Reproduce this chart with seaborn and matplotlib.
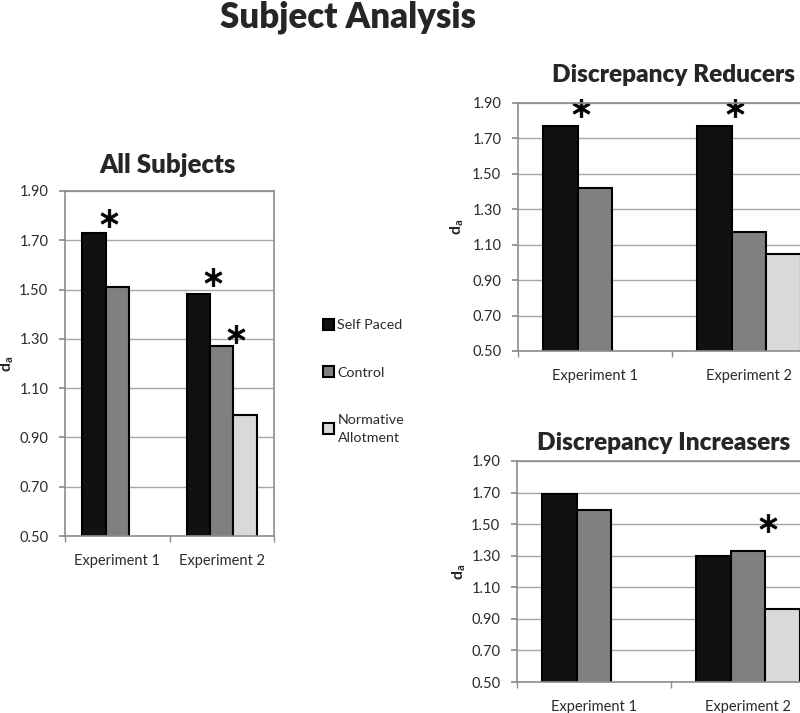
"""
Subject Analysis - d_a by experiment and pacing condition
"""

import numpy as np
import pandas as pd
import matplotlib

matplotlib.use("Agg")
import matplotlib.pyplot as plt
from matplotlib.ticker import FixedLocator
from matplotlib.transforms import offset_copy
import seaborn as sns

# Data
EXPERIMENTS = ["Experiment 1", "Experiment 2"]
CONDITIONS = ["Self Paced", "Control", "Normative\nAllotment"]

all_self_paced = [1.73, 1.48]
all_control = [1.51, 1.27]
all_normative = [np.nan, 0.99]

reducers_self_paced = [1.77, 1.77]
reducers_control = [1.42, 1.17]
reducers_normative = [np.nan, 1.05]

increasers_self_paced = [1.69, 1.30]
increasers_control = [1.59, 1.33]
increasers_normative = [np.nan, 0.96]

# significance stars: (experiment index, condition index, height)
all_stars = [(0, 0, 1.79), (1, 0, 1.55), (1, 1, 1.32)]
reducers_stars = [(0, 0, 1.87), (1, 0, 1.87)]
increasers_stars = [(1, 1, 1.51)]

Y_TICKS = [0.50, 0.70, 0.90, 1.10, 1.30, 1.50, 1.70, 1.90]

PALETTE = {
    "Self Paced": "#111111",
    "Control": "#808080",
    "Normative\nAllotment": "#d9d9d9",
}
BAR_WIDTH = 0.67
FONT = "Lato"
TEXT_COLOR = "#2b2b2b"


def make_frame(self_paced, control, normative):
    """Long format table for seaborn"""
    rows = []
    for cond, values in zip(CONDITIONS, [self_paced, control, normative]):
        for exp, v in zip(EXPERIMENTS, values):
            if not np.isnan(v):
                rows.append({"experiment": exp, "condition": cond, "da": v})
    return pd.DataFrame(rows)


def draw_panel(ax, df, title, stars, title_pad, title_x, label_x,
               title_size=18.5, legend=False):
    """Draw one grouped bar panel in the old Excel look"""
    sns.barplot(
        data=df,
        x="experiment",
        y="da",
        hue="condition",
        order=EXPERIMENTS,
        hue_order=CONDITIONS,
        palette=PALETTE,
        width=BAR_WIDTH,
        edgecolor="black",
        linewidth=1.5,
        errorbar=None,
        legend=legend,
        ax=ax,
    )
    ax.set_ylim(0.5, 1.9)
    ax.set_xlim(-0.5, 1.5)
    ax.set_yticks(Y_TICKS)
    ax.set_yticklabels([f"{t:.2f}" for t in Y_TICKS])
    ax.yaxis.grid(True, color="#a6a6a6", linewidth=1.0)
    ax.set_axisbelow(True)
    for spine in ax.spines.values():
        spine.set_visible(True)
        spine.set_color("#8c8c8c")
        spine.set_linewidth(1.2)

    ax.xaxis.set_minor_locator(FixedLocator([-0.5, 0.5, 1.5]))
    ax.tick_params(axis="x", which="major", length=0, pad=13,
                   labelsize=10.5, labelcolor=TEXT_COLOR)
    ax.tick_params(axis="x", which="minor", length=4, color="#8c8c8c",
                   direction="out", bottom=True)
    ax.tick_params(axis="y", length=4, color="#8c8c8c", direction="out",
                   left=True, pad=8, labelsize=10.5, labelcolor=TEXT_COLOR)

    ax.set_xlabel("")
    ax.set_ylabel(r"$\mathbf{d_a}$", fontsize=11.5)
    ax.yaxis.set_label_coords(label_x, 0.5)
    ax.set_title(title, fontsize=title_size, fontweight="heavy",
                 pad=title_pad)
    ax.title.set_x(title_x)

    # stars sit just right of the right edge of the marked bar
    step = BAR_WIDTH / len(CONDITIONS)
    star_trans = offset_copy(ax.transData, fig=ax.figure, x=3, y=0,
                             units="dots")
    for exp_idx, cond_idx, height in stars:
        x = exp_idx - BAR_WIDTH / 2 + step * (cond_idx + 1)
        ax.plot([x], [height], linestyle="", marker="$*$", markersize=13,
                color="black", markeredgewidth=0.6, clip_on=False,
                transform=star_trans)


def main():
    sns.set_theme(style="white")
    plt.rcParams["font.family"] = [FONT, "DejaVu Sans"]
    plt.rcParams["mathtext.fontset"] = "custom"
    plt.rcParams["mathtext.rm"] = FONT
    plt.rcParams["mathtext.bf"] = f"{FONT}:bold"

    W, H = 800, 713
    fig = plt.figure(figsize=(W / 100, H / 100), dpi=100)

    def px_axes(left, top, right, bottom):
        return fig.add_axes([left / W, 1 - bottom / H,
                             (right - left) / W, (bottom - top) / H])

    ax_all = px_axes(65, 191, 274, 536)
    ax_red = px_axes(518, 103, 826, 351)
    ax_inc = px_axes(517, 461, 825, 682)

    draw_panel(ax_all, make_frame(all_self_paced, all_control, all_normative),
               "All Subjects", all_stars, title_pad=13, title_x=0.49,
               label_x=(16 - 65) / 209, legend=True)
    draw_panel(ax_red, make_frame(reducers_self_paced, reducers_control,
                                  reducers_normative),
               "Discrepancy Reducers", reducers_stars, title_pad=15,
               title_x=(674 - 518) / 308, label_x=(466 - 518) / 308,
               title_size=17.6)
    draw_panel(ax_inc, make_frame(increasers_self_paced, increasers_control,
                                  increasers_normative),
               "Discrepancy Increasers", increasers_stars, title_pad=8,
               title_x=(664 - 517) / 308, label_x=(468 - 517) / 308,
               title_size=17.6)

    sns.move_legend(
        ax_all,
        loc="upper left",
        bbox_to_anchor=(316 / W, 1 - 312 / H),
        bbox_transform=fig.transFigure,
        title=None,
        frameon=False,
        fontsize=10.3,
        labelspacing=2.45,
        handlelength=0.75,
        handleheight=0.75,
        handletextpad=0.25,
        borderpad=0,
    )
    for text in ax_all.get_legend().get_texts():
        text.set_color(TEXT_COLOR)
        text.set_linespacing(1.6)

    fig.text(348 / W, 1 - 17 / H, "Subject Analysis", ha="center",
             va="center", fontsize=25, fontweight="heavy")

    fig.savefig("out.png", dpi=100)
    plt.close(fig)


if __name__ == "__main__":
    main()
